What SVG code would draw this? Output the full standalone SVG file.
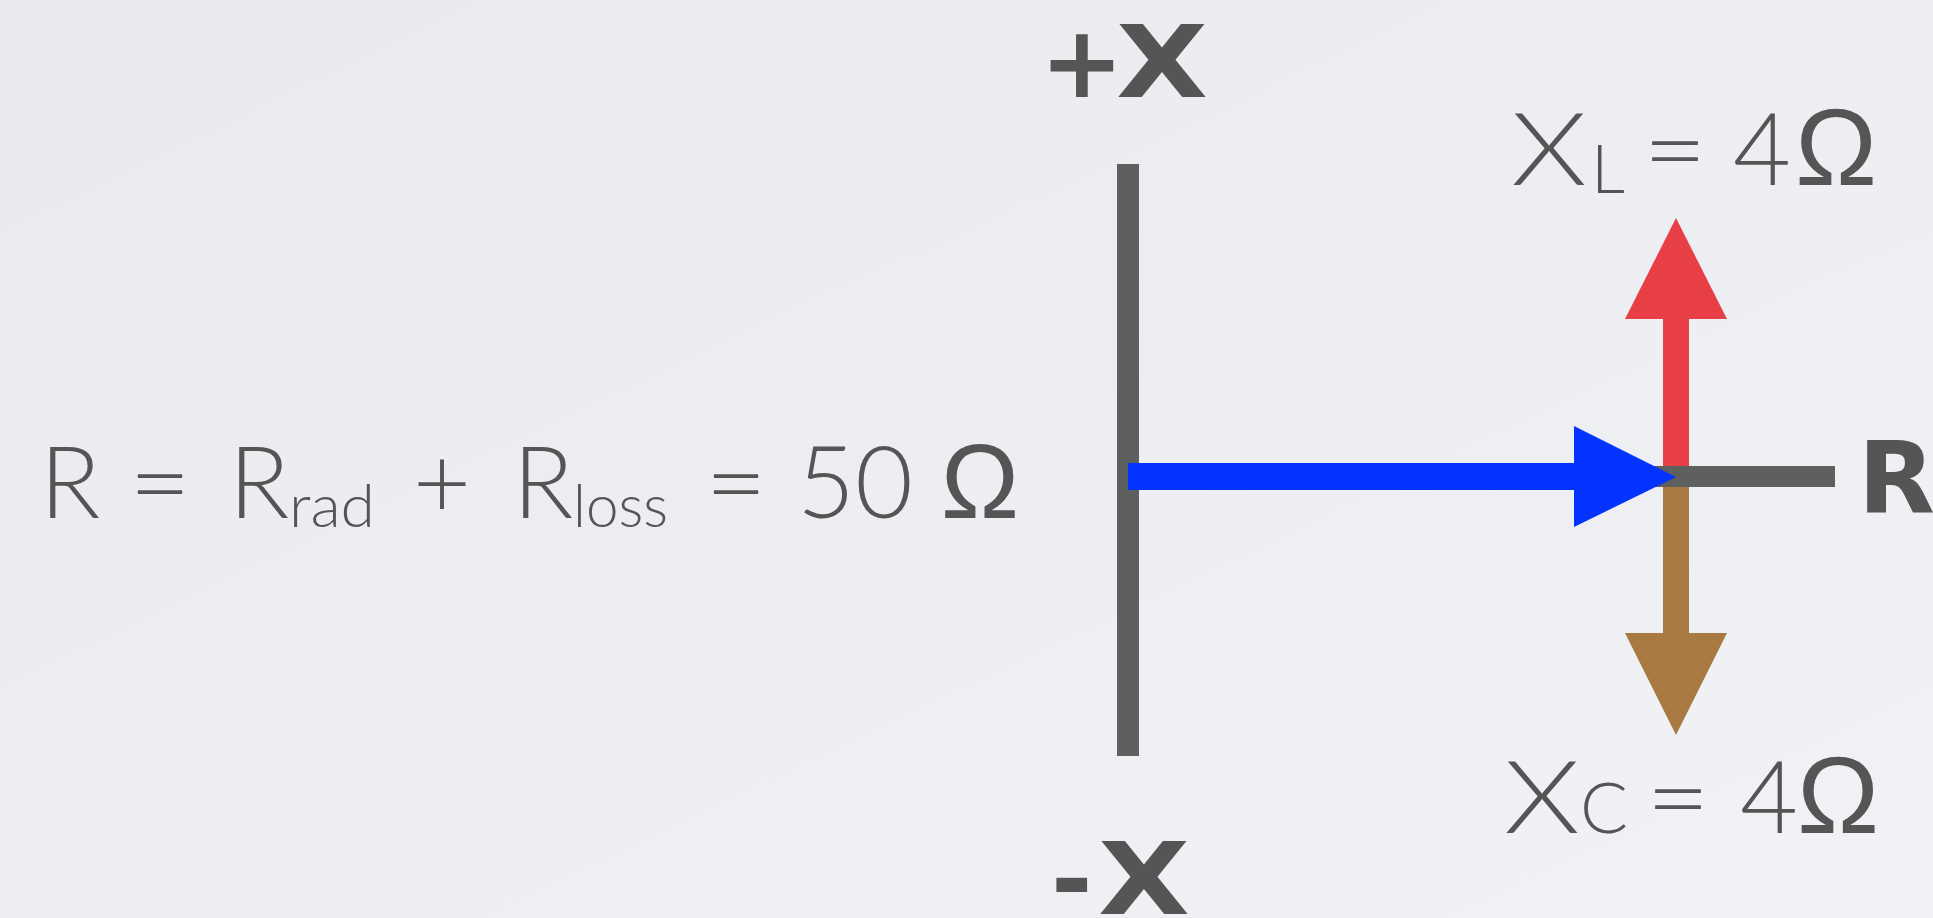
<svg xmlns="http://www.w3.org/2000/svg" width="1933" height="918" viewBox="0 0 1933 918">
  <defs>
    <linearGradient id="bg" x1="0" y1="0" x2="1" y2="1">
      <stop offset="0" stop-color="#e8eaed"/>
      <stop offset="1" stop-color="#f1f2f5"/>
    </linearGradient>
    <style>
      .lt { font-family: Lato, "Open Sans", "Liberation Sans", sans-serif; font-weight: 300; fill: #555555; }
      .om { font-family: "Liberation Sans", Arial, sans-serif; font-weight: 400; fill: #555555; }
      .bd { font-family: "DejaVu Sans", "Liberation Sans", sans-serif; font-weight: 700; fill: #555555; }
      .axis { stroke: #5d605e; fill: none; }
      .blue { fill: #0433ff; }
      .red { fill: #e83e45; }
      .brown { fill: #a87941; }
    </style>
  </defs>
  <rect width="1933" height="918" fill="url(#bg)"/>

  <g id="connectors">
    <line id="axis-x" class="axis" x1="1128" y1="164" x2="1128" y2="756" stroke-width="22"/>
    <rect id="red-shaft" class="red" x="1663" y="318" width="26" height="150"/>
    <polygon id="red-head" class="red" points="1625,319 1727,319 1676,218"/>
    <rect id="brown-shaft" class="brown" x="1663" y="485" width="26" height="149"/>
    <polygon id="brown-head" class="brown" points="1625,633 1727,633 1676,735"/>
    <line id="axis-r" class="axis" x1="1653" y1="476.5" x2="1835" y2="476.5" stroke-width="21"/>
    <rect id="blue-shaft" class="blue" x="1128" y="463" width="450" height="27"/>
    <polygon id="blue-head" class="blue" points="1574,426 1676,477 1574,527"/>
  </g>

  <g id="label-plus-x">
    <text class="bd" y="97" font-size="100"><tspan x="1040">+</tspan><tspan x="1116" textLength="92" lengthAdjust="spacingAndGlyphs">X</tspan></text>
  </g>
  <g id="label-minus-x">
    <text class="bd" y="914" font-size="100"><tspan x="1051">-</tspan><tspan x="1098" textLength="92" lengthAdjust="spacingAndGlyphs">X</tspan></text>
  </g>
  <g id="label-r">
    <text class="bd" x="1858" y="513" font-size="100">R</text>
  </g>

  <g id="equation-r">
    <text class="lt" x="70" y="518" font-size="100" text-anchor="middle">R</text>
    <text class="lt" x="160" y="518" font-size="100" text-anchor="middle" textLength="62" lengthAdjust="spacingAndGlyphs">=</text>
    <text class="lt" x="259" y="518" font-size="100" text-anchor="middle">R</text>
    <text class="lt" x="289" y="527" font-size="60" textLength="86" lengthAdjust="spacingAndGlyphs">rad</text>
    <text class="lt" x="442" y="518" font-size="100" text-anchor="middle">+</text>
    <text class="lt" x="543" y="518" font-size="100" text-anchor="middle">R</text>
    <text class="lt" x="573" y="527" font-size="60" textLength="95" lengthAdjust="spacingAndGlyphs">loss</text>
    <text class="lt" x="736" y="518" font-size="100" text-anchor="middle" textLength="62" lengthAdjust="spacingAndGlyphs">=</text>
    <text class="lt" x="855" y="518" font-size="100" text-anchor="middle">50</text>
    <text class="om" x="980" y="518" font-size="105" text-anchor="middle">Ω</text>
  </g>

  <g id="label-xl">
    <text class="lt" x="1549" y="185" font-size="100" text-anchor="middle" textLength="76" lengthAdjust="spacingAndGlyphs">X</text>
    <text class="lt" x="1591" y="193" font-size="67">L</text>
    <text class="lt" x="1675" y="185" font-size="100" text-anchor="middle" textLength="64" lengthAdjust="spacingAndGlyphs">=</text>
    <text class="lt" x="1762" y="185" font-size="100" text-anchor="middle">4</text>
    <text class="om" x="1836" y="185" font-size="110" text-anchor="middle">Ω</text>
  </g>

  <g id="label-xc">
    <text class="lt" x="1542" y="833" font-size="100" text-anchor="middle" textLength="76" lengthAdjust="spacingAndGlyphs">X</text>
    <text class="lt" x="1580" y="833" font-size="71">C</text>
    <text class="lt" x="1678" y="833" font-size="100" text-anchor="middle" textLength="64" lengthAdjust="spacingAndGlyphs">=</text>
    <text class="lt" x="1769" y="833" font-size="100" text-anchor="middle">4</text>
    <text class="om" x="1838" y="833" font-size="110" text-anchor="middle">Ω</text>
  </g>
</svg>
